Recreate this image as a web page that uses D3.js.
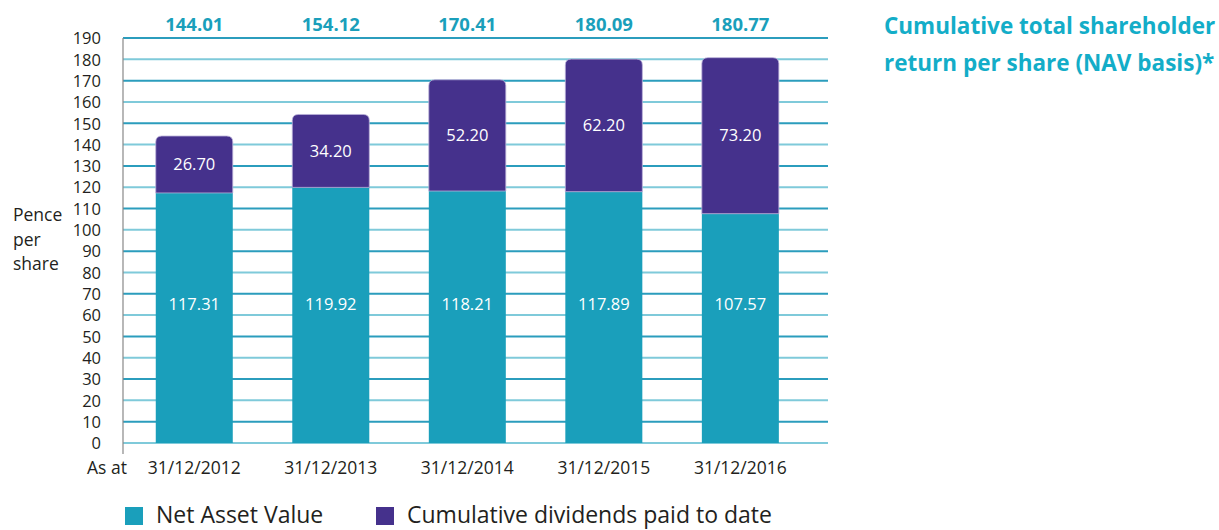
<!DOCTYPE html>
<html><head><meta charset="utf-8">
<script src="https://cdn.jsdelivr.net/npm/d3@7"></script>
<style>body{margin:0;background:#fff}svg{display:block}text{font-family:"Open Sans",sans-serif}</style>
</head><body><svg id="c" width="1219" height="530"></svg>
<script>
const categories = ["31/12/2012","31/12/2013","31/12/2014","31/12/2015","31/12/2016"];
const navValues = [117.31,119.92,118.21,117.89,107.57];
const dividendValues = [26.70,34.20,52.20,62.20,73.20];
const totalLabels = ["144.01","154.12","170.41","180.09","180.77"];
const yTicks = d3.range(0,191,10);
const seriesNames = ["Net Asset Value","Cumulative dividends paid to date"];

const teal = "#1a9fbb", purple = "#45318c";
const svg = d3.select("#c");
const x = d3.scaleBand().domain(categories).range([123,828]).paddingInner(0.436).paddingOuter(0.30).align(0.40);
const y = d3.scaleLinear().domain([0,190]).range([443,38]);

// gridlines
svg.append("g").selectAll("line").data(yTicks).join("line")
  .attr("x1",123).attr("x2",828).attr("y1",d=>y(d)).attr("y2",d=>y(d))
  .attr("stroke",(d,i)=> i%2===0 ? "#7fcada" : "#2b9dbd").attr("stroke-width",2);

// y axis
const yAxis = svg.append("g").attr("transform","translate(123,0)")
  .call(d3.axisLeft(y).tickValues(yTicks).tickSize(0).tickPadding(8));
yAxis.select(".domain").remove();
yAxis.selectAll("text").attr("font-size",16.5).attr("fill","#231f20").attr("dy","0.35em").attr("x",-22);
svg.append("line").attr("x1",123).attr("x2",123).attr("y1",y(190)).attr("y2",454).attr("stroke","#888").attr("stroke-width",1.2);

function topRounded(x0,y0,w,h,r){
  r=Math.min(r,h);
  return `M${x0},${y0+h}V${y0+r}Q${x0},${y0} ${x0+r},${y0}H${x0+w-r}Q${x0+w},${y0} ${x0+w},${y0+r}V${y0+h}Z`;
}
const bw = x.bandwidth();
// NAV bars
svg.append("g").selectAll("rect").data(categories).join("rect")
  .attr("x",d=>x(d)).attr("width",bw)
  .attr("y",(d,i)=>y(navValues[i])).attr("height",(d,i)=>y(0)-y(navValues[i]))
  .attr("fill",teal);
// dividend bars
svg.append("g").selectAll("path").data(categories).join("path")
  .attr("d",(d,i)=>{const t=y(navValues[i]+dividendValues[i]); return topRounded(x(d),t,bw,y(navValues[i])-t,6);})
  .attr("fill",purple).attr("stroke","#b9b0d8").attr("stroke-width",0.8);

// labels
svg.append("g").selectAll("text").data(categories).join("text")
  .attr("x",d=>x(d)+bw/2).attr("y",y(65)).attr("dy","0.35em")
  .attr("text-anchor","middle").attr("fill","#fff").attr("font-size",16.5)
  .text((d,i)=>navValues[i].toFixed(2));
svg.append("g").selectAll("text").data(categories).join("text")
  .attr("x",d=>x(d)+bw/2).attr("y",(d,i)=>y(navValues[i]+dividendValues[i]/2)).attr("dy","0.35em")
  .attr("text-anchor","middle").attr("fill","#fff").attr("font-size",16.5)
  .text((d,i)=>dividendValues[i].toFixed(2));
svg.append("g").selectAll("text").data(categories).join("text")
  .attr("x",d=>x(d)+bw/2).attr("y",31)
  .attr("text-anchor","middle").attr("fill","#1a9fbb").attr("font-size",18.5).attr("font-weight",700)
  .text((d,i)=>totalLabels[i]);

// x labels
svg.append("g").selectAll("text").data(categories).join("text")
  .attr("x",d=>x(d)+bw/2).attr("y",474)
  .attr("text-anchor","middle").attr("fill","#231f20").attr("font-size",17.5).text(d=>d);
svg.append("text").attr("x",87).attr("y",474).attr("fill","#231f20").attr("font-size",17.5).text("As at");

// y title
["Pence","per","share"].forEach((t,i)=>svg.append("text").attr("x",13).attr("y",221+i*24.5).attr("fill","#231f20").attr("font-size",17.5).text(t));

// chart title
["Cumulative total shareholder","return per share (NAV basis)*"].forEach((t,i)=>svg.append("text").attr("x",884).attr("y",34+i*37)
  .attr("fill","#13adc8").attr("font-size",22.5).attr("font-weight",700).text(t));

// legend
const lg = svg.append("g");
const lx = [125,376];
seriesNames.forEach((n,i)=>{
  lg.append("rect").attr("x",lx[i]).attr("y",507).attr("width",18).attr("height",18).attr("fill",i===0?teal:purple);
  lg.append("text").attr("x",lx[i]+31).attr("y",523).attr("font-size",23).attr("fill","#231f20").text(n);
});
</script></body></html>
